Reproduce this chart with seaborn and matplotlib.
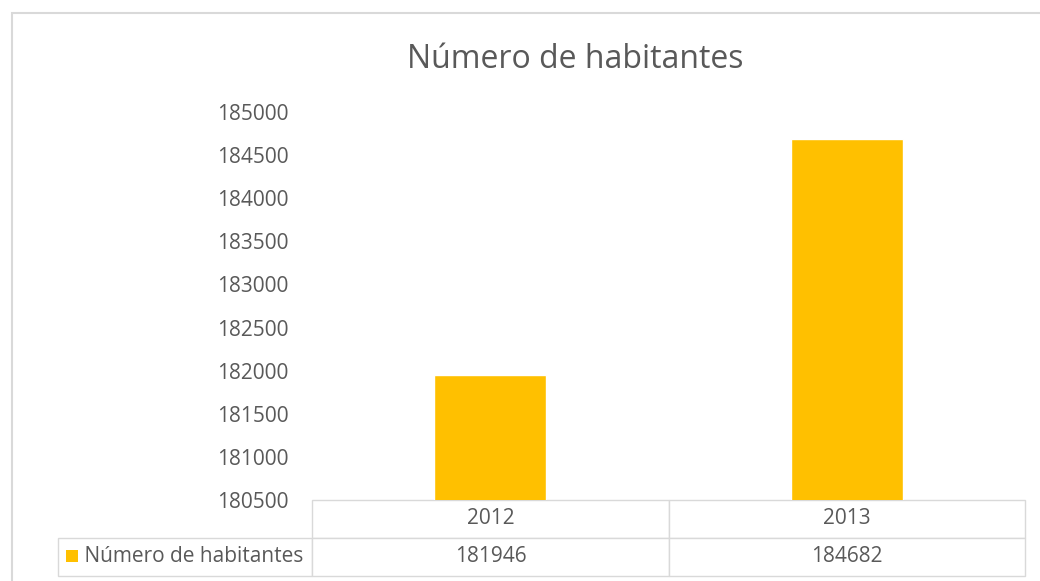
import matplotlib
matplotlib.use("Agg")
import matplotlib.pyplot as plt
import seaborn as sns
import pandas as pd
from matplotlib.patches import Rectangle

# data
years = ["2012", "2013"]
habitantes = [181946, 184682]
serie = "Número de habitantes"
y_ticks = [180500, 181000, 181500, 182000, 182500, 183000, 183500, 184000, 184500, 185000]

df = pd.DataFrame({"Año": years, "Habitantes": habitantes})

sns.set_style("white")
plt.rcParams["font.family"] = ["Open Sans", "DejaVu Sans"]
grey = "#595959"
bar_color = "#FFC000"
line_color = "#D9D9D9"

W, H = 1040, 581
fig = plt.figure(figsize=(W / 100, H / 100), dpi=100)

# outer chart border (cut off at right/bottom like the screenshot)
fig.patches.append(Rectangle((12 / W, -0.05), 1.1, 1 - 13 / H + 0.05, transform=fig.transFigure,
                             fill=False, edgecolor=line_color, lw=1.5))

left, right, top, bottom = 312, 1025, 112, 500
ax = fig.add_axes([left / W, 1 - bottom / H, (right - left) / W, (bottom - top) / H])

sns.barplot(data=df, x="Año", y="Habitantes", color=bar_color, width=0.315,
            saturation=1, ax=ax)
ax.set_ylim(y_ticks[0], y_ticks[-1])
ax.set_yticks(y_ticks)
ax.set_yticklabels([str(t) for t in y_ticks], fontsize=15, color=grey)
ax.tick_params(axis="y", length=0, pad=17)
ax.set_xticks([])
ax.set_xlabel("")
ax.set_ylabel("")
ax.set_xlim(-0.5, 1.5)
for s in ax.spines.values():
    s.set_visible(False)

fig.text(575 / W, 1 - 59 / H, serie, ha="center", va="center", fontsize=23, color=grey)

# data table under the chart
aw = right - left
ah = bottom - top
x0 = (58 - left) / aw
tab_h = (576 - bottom) / ah
cell_text = [["", years[0], years[1]],
             ["    " + serie, str(habitantes[0]), str(habitantes[1])]]
widths = [254, 356, 356]
tot = sum(widths)
tbl = ax.table(cellText=cell_text, colWidths=[w / tot for w in widths],
               cellLoc="center", bbox=[x0, -tab_h, 1 - x0, tab_h])
tbl.auto_set_font_size(False)
for (r, c), cell in tbl.get_celld().items():
    cell.set_edgecolor(line_color)
    cell.set_linewidth(1.0)
    cell.get_text().set_fontsize(15)
    cell.get_text().set_color(grey)
    if r == 0 and c == 0:
        cell.visible_edges = "BR"
        cell.set_edgecolor("white")
tbl[0, 0].set_linewidth(0)
tbl[1, 0].get_text().set_ha("left")
tbl[1, 0].PAD = 0.02

# legend key square inside the table
ax.add_patch(Rectangle(((66 - left) / aw, -(562 - bottom) / ah), 12 / aw, 12 / ah,
                       transform=ax.transAxes, clip_on=False, facecolor=bar_color, lw=0))

fig.savefig("out.png", dpi=100)
